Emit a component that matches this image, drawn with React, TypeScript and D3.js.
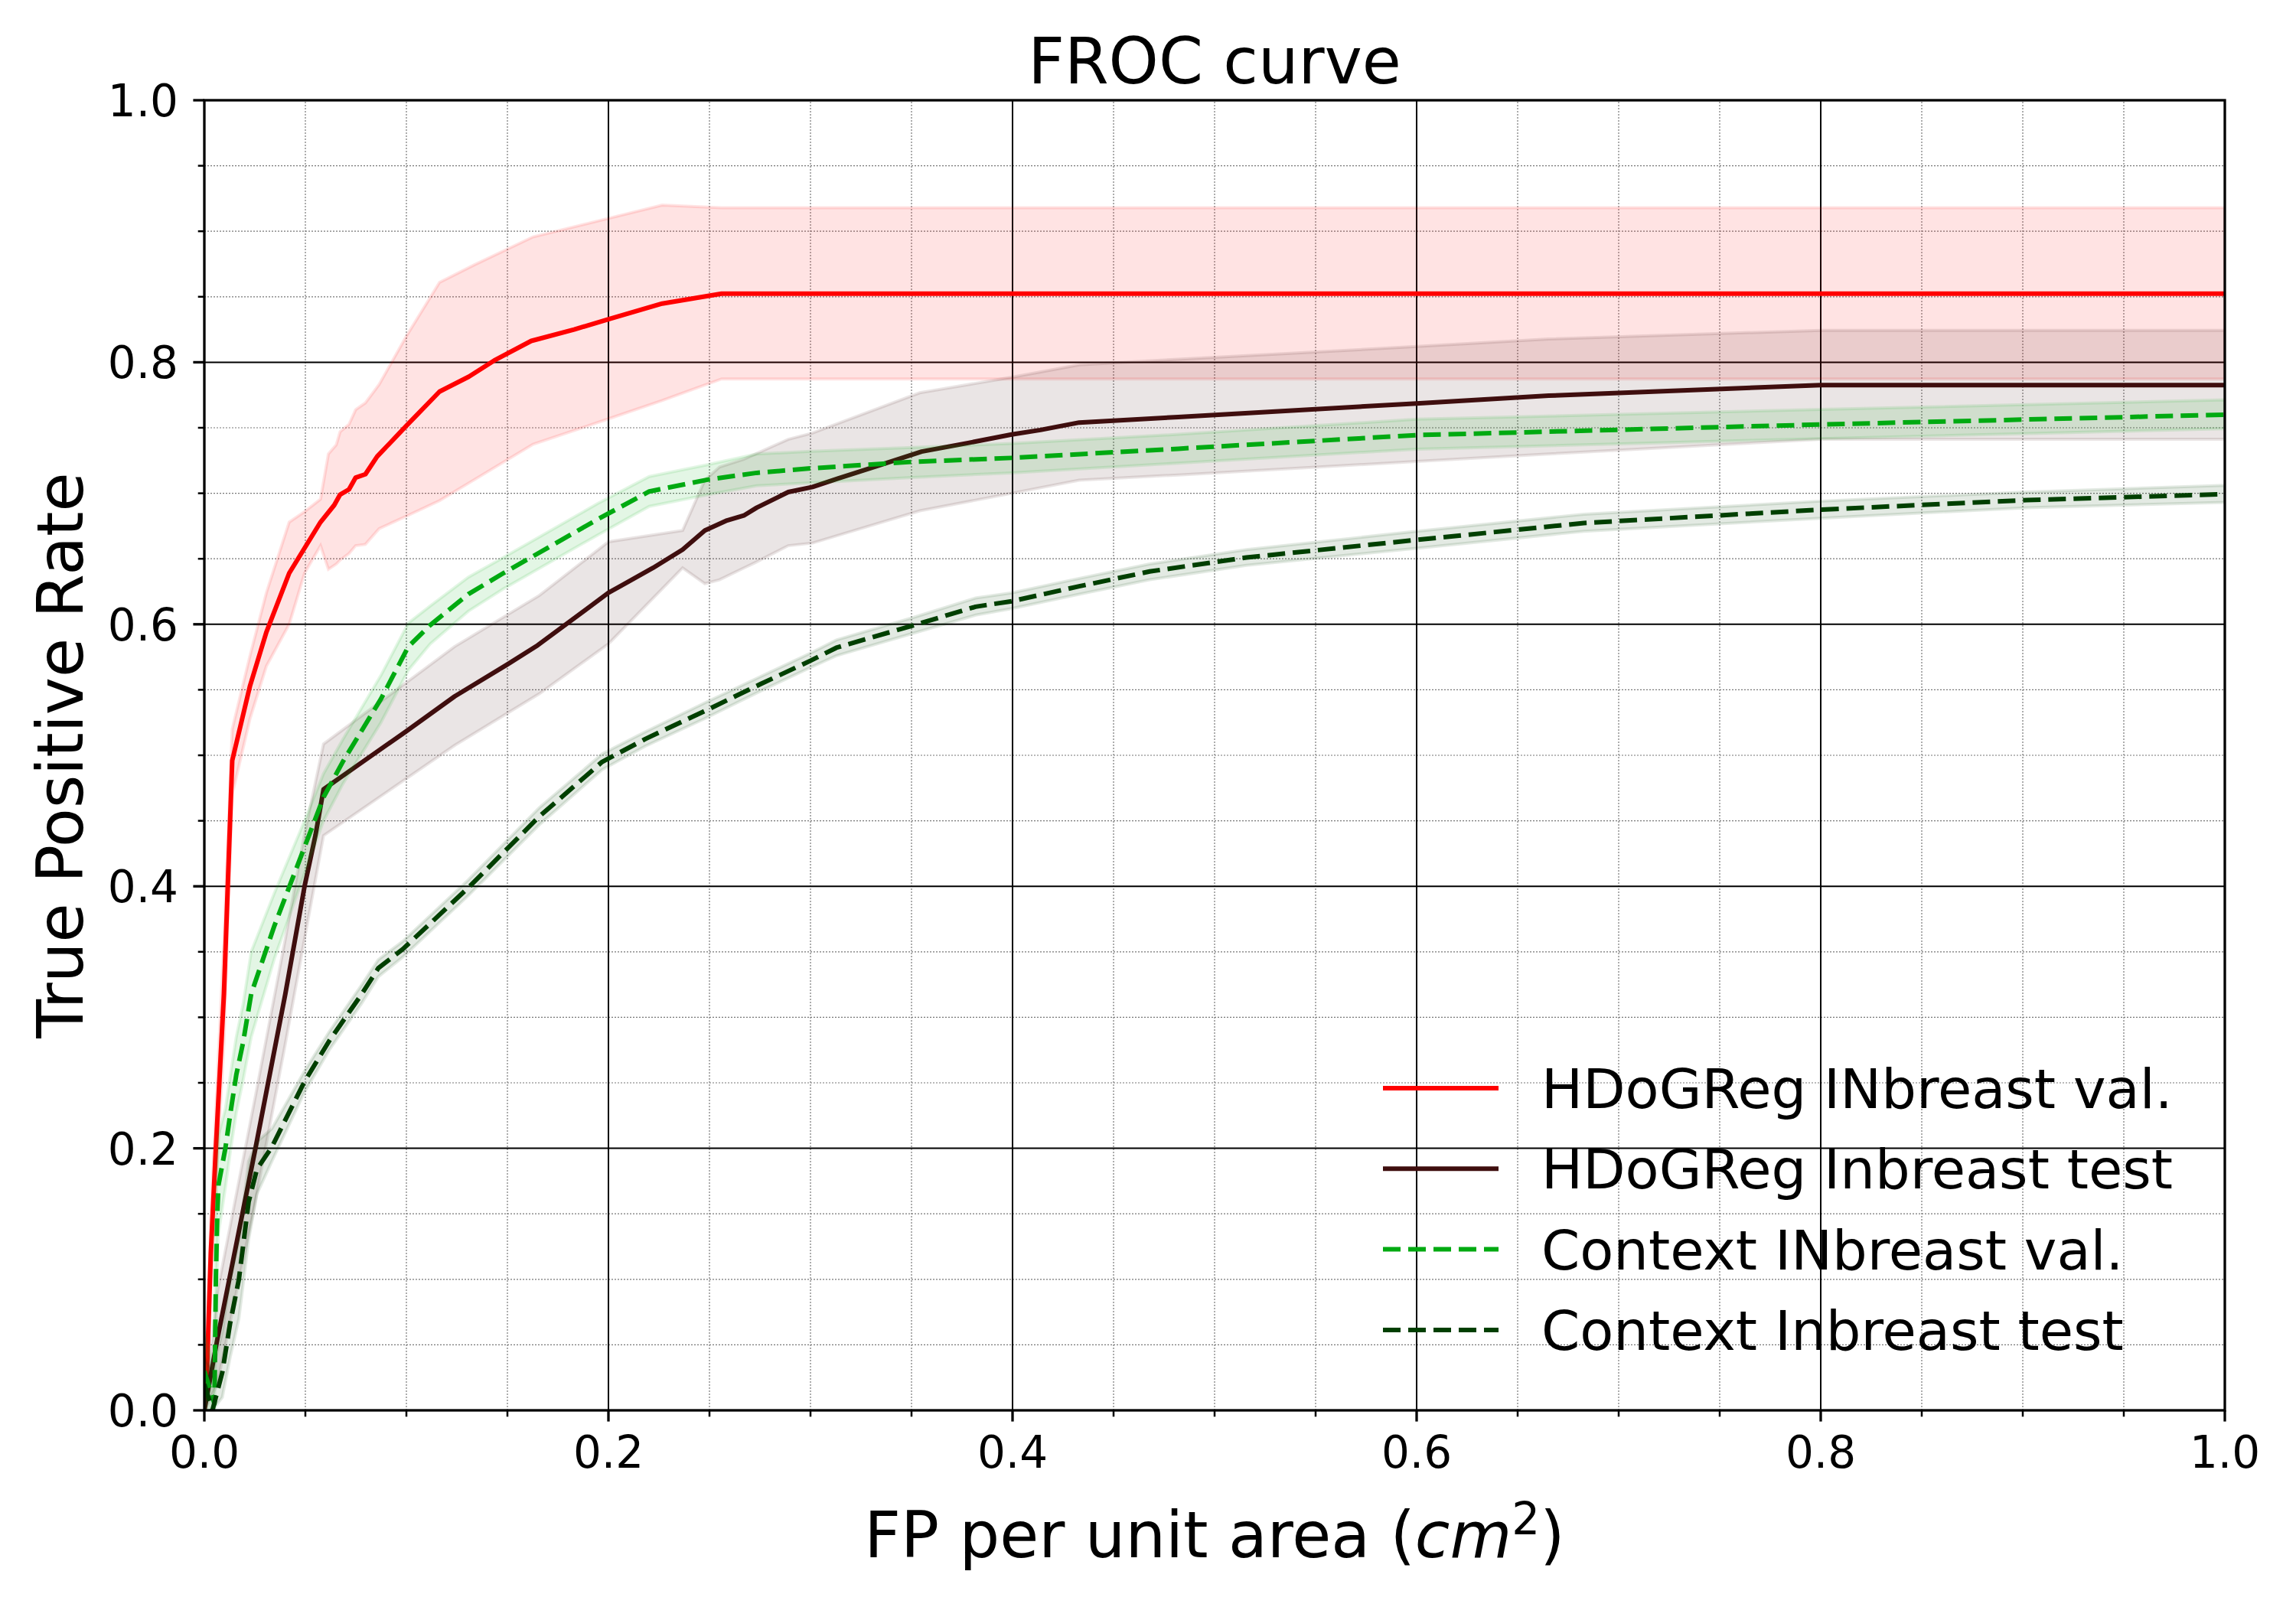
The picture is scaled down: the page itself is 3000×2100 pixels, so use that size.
import { useEffect, useRef } from "react";
import * as d3 from "d3";

// HDoGReg INbreast val. (red)
const redX = [0, 0.0013, 0.0032, 0.0057, 0.0097, 0.0138, 0.0226, 0.0307, 0.042, 0.0575, 0.0643, 0.0672, 0.0716, 0.0749, 0.0797, 0.0855, 0.1, 0.1164, 0.1309, 0.1434, 0.1618, 0.183, 0.2004, 0.2266, 0.256, 1.0];
const redY = [0, 0.03, 0.12, 0.2, 0.318, 0.496, 0.553, 0.594, 0.639, 0.678, 0.691, 0.699, 0.703, 0.712, 0.7145, 0.728, 0.7515, 0.7776, 0.789, 0.8013, 0.8163, 0.825, 0.833, 0.8448, 0.8524, 0.8524];
const redBandX = [0, 0.0013, 0.0032, 0.0057, 0.0097, 0.0138, 0.0226, 0.0307, 0.042, 0.0496, 0.0575, 0.0614, 0.0653, 0.0672, 0.0716, 0.0749, 0.0797, 0.0865, 0.1, 0.1164, 0.1338, 0.1627, 0.2004, 0.2266, 0.256, 1.0];
const redBandLo = [0, 0.01, 0.09, 0.17, 0.28, 0.47, 0.528, 0.568, 0.6, 0.639, 0.66, 0.642, 0.646, 0.649, 0.654, 0.66, 0.661, 0.673, 0.6825, 0.6944, 0.7105, 0.7374, 0.757, 0.7708, 0.7873, 0.7873];
const redBandHi = [0, 0.05, 0.15, 0.23, 0.36, 0.52, 0.576, 0.624, 0.678, 0.686, 0.6955, 0.73, 0.737, 0.747, 0.7526, 0.7638, 0.769, 0.783, 0.82, 0.861, 0.8745, 0.8957, 0.91, 0.92, 0.918, 0.918];

// HDoGReg Inbreast test (dark maroon)
const brownX = [0, 0.0064, 0.0253, 0.0401, 0.0496, 0.055, 0.059, 0.0678, 0.0996, 0.1239, 0.1496, 0.165, 0.2, 0.222, 0.2367, 0.2477, 0.2587, 0.267, 0.2734, 0.289, 0.301, 0.3138, 0.334, 0.355, 0.378, 0.3996, 0.4138, 0.433, 0.482, 0.6, 0.6654, 0.8, 1.0];
const brownY = [0, 0.054, 0.2, 0.318, 0.4, 0.439, 0.474, 0.4836, 0.518, 0.545, 0.569, 0.584, 0.624, 0.643, 0.657, 0.6716, 0.6793, 0.683, 0.689, 0.7009, 0.7048, 0.7114, 0.7213, 0.7318, 0.7384, 0.7449, 0.7483, 0.754, 0.7582, 0.7686, 0.7745, 0.7826, 0.7826];
const brownBandX = [0, 0.0064, 0.0253, 0.0401, 0.0496, 0.059, 0.1239, 0.1658, 0.2, 0.2367, 0.2477, 0.255, 0.267, 0.2725, 0.289, 0.301, 0.3541, 0.3996, 0.433, 0.482, 0.6, 0.6654, 0.8, 1.0];
const brownBandLo = [0, 0.02, 0.16, 0.28, 0.36, 0.4387, 0.5076, 0.547, 0.585, 0.643, 0.631, 0.634, 0.643, 0.647, 0.66, 0.662, 0.6866, 0.7, 0.71, 0.714, 0.7243, 0.73, 0.7412, 0.7412];
const brownBandHi = [0, 0.09, 0.24, 0.36, 0.44, 0.5086, 0.583, 0.622, 0.663, 0.6716, 0.71, 0.72, 0.726, 0.7298, 0.7412, 0.746, 0.7767, 0.7886, 0.798, 0.8023, 0.812, 0.8177, 0.8244, 0.8244];

// Context INbreast val. (green, dashed)
const greenX = [0, 0.005, 0.0057, 0.0064, 0.007, 0.0104, 0.0131, 0.0158, 0.0192, 0.0232, 0.0347, 0.0496, 0.059, 0.0685, 0.0874, 0.101, 0.1118, 0.1307, 0.148, 0.1945, 0.2202, 0.2495, 0.2734, 0.3, 0.3505, 0.3996, 0.482, 0.6, 0.8, 1.0];
const greenY = [0.03, 0.005, 0.1, 0.15, 0.172, 0.2, 0.229, 0.256, 0.281, 0.318, 0.37, 0.43, 0.468, 0.495, 0.543, 0.583, 0.5994, 0.623, 0.639, 0.68, 0.7014, 0.7105, 0.7156, 0.719, 0.724, 0.727, 0.734, 0.7444, 0.7525, 0.76];
const greenLo = [0, 0, 0.06, 0.11, 0.135, 0.17, 0.2, 0.227, 0.252, 0.285, 0.345, 0.41, 0.45, 0.478, 0.525, 0.565, 0.585, 0.61, 0.627, 0.668, 0.69, 0.699, 0.7057, 0.708, 0.712, 0.7156, 0.723, 0.7337, 0.7417, 0.7493];
const greenHi = [0.06, 0.03, 0.14, 0.19, 0.21, 0.23, 0.258, 0.285, 0.31, 0.35, 0.395, 0.45, 0.486, 0.512, 0.561, 0.601, 0.614, 0.636, 0.651, 0.692, 0.7128, 0.722, 0.73, 0.732, 0.735, 0.738, 0.745, 0.7565, 0.764, 0.7713];

// Context Inbreast test (dark green, dashed)
const dkX = [0, 0.004, 0.0089, 0.0127, 0.0171, 0.0219, 0.026, 0.0334, 0.0496, 0.0618, 0.078, 0.0861, 0.0982, 0.1307, 0.1658, 0.1969, 0.2183, 0.2477, 0.2752, 0.3, 0.3128, 0.3505, 0.3817, 0.3996, 0.433, 0.4679, 0.5158, 0.6, 0.6828, 0.8, 0.902, 1.0];
const dkY = [0.02, 0, 0.029, 0.066, 0.1, 0.159, 0.184, 0.201, 0.251, 0.282, 0.318, 0.3375, 0.352, 0.399, 0.4533, 0.495, 0.5125, 0.5338, 0.5543, 0.5722, 0.5821, 0.599, 0.6134, 0.6176, 0.629, 0.6403, 0.651, 0.6644, 0.6773, 0.6875, 0.6948, 0.6993];
const dkLo = [0, 0, 0.01, 0.04, 0.07, 0.13, 0.165, 0.19, 0.243, 0.275, 0.311, 0.331, 0.346, 0.393, 0.447, 0.489, 0.507, 0.528, 0.549, 0.567, 0.576, 0.593, 0.607, 0.612, 0.623, 0.634, 0.645, 0.658, 0.671, 0.681, 0.689, 0.693];
const dkHi = [0.04, 0.03, 0.06, 0.1, 0.13, 0.19, 0.205, 0.215, 0.259, 0.289, 0.325, 0.344, 0.358, 0.405, 0.46, 0.501, 0.518, 0.54, 0.56, 0.578, 0.588, 0.605, 0.62, 0.624, 0.635, 0.646, 0.657, 0.671, 0.684, 0.694, 0.701, 0.706];

const majorTicks = [0, 0.2, 0.4, 0.6, 0.8, 1.0];
const minorTicks = [0.05, 0.1, 0.15, 0.25, 0.3, 0.35, 0.45, 0.5, 0.55, 0.65, 0.7, 0.75, 0.85, 0.9, 0.95];

const series = [
  { name: "HDoGReg INbreast val.", color: "#ff0000", dash: null, x: redX, y: redY, bx: redBandX, lo: redBandLo, hi: redBandHi },
  { name: "HDoGReg Inbreast test", color: "#3f0e0e", dash: null, x: brownX, y: brownY, bx: brownBandX, lo: brownBandLo, hi: brownBandHi },
  { name: "Context INbreast val.", color: "#00aa11", dash: "23,10", x: greenX, y: greenY, bx: greenX, lo: greenLo, hi: greenHi },
  { name: "Context Inbreast test", color: "#003f00", dash: "23,10", x: dkX, y: dkY, bx: dkX, lo: dkLo, hi: dkHi },
];

const FONT = "'DejaVu Sans', sans-serif";

export default function App() {
  const svgRef = useRef<SVGSVGElement>(null);

  useEffect(() => {
    if (!svgRef.current) return;
    document.body.style.margin = "0";

    const W = 3000;
    const H = 2100;
    const margin = { top: 131, right: 93, bottom: 257, left: 267 };

    const svg = d3.select(svgRef.current).attr("width", W).attr("height", H);
    svg.selectAll("*").remove();

    svg.append("rect").attr("width", W).attr("height", H).attr("fill", "#fff");

    const xScale = d3.scaleLinear().domain([0, 1]).range([margin.left, W - margin.right]);
    const yScale = d3.scaleLinear().domain([0, 1]).range([H - margin.bottom, margin.top]);
    const [x0, x1] = xScale.range();
    const [y0, y1] = yScale.range();

    svg
      .append("clipPath")
      .attr("id", "plot-clip")
      .append("rect")
      .attr("x", x0)
      .attr("y", y1)
      .attr("width", x1 - x0)
      .attr("height", y0 - y1);

    // Grid
    const grid = svg.append("g");
    grid
      .selectAll("line.minor-v")
      .data(minorTicks)
      .enter()
      .append("line")
      .attr("x1", (d) => xScale(d))
      .attr("x2", (d) => xScale(d))
      .attr("y1", y0)
      .attr("y2", y1)
      .attr("stroke", "#777")
      .attr("stroke-width", 1.2)
      .attr("stroke-dasharray", "2,2");
    grid
      .selectAll("line.minor-h")
      .data(minorTicks)
      .enter()
      .append("line")
      .attr("x1", x0)
      .attr("x2", x1)
      .attr("y1", (d) => yScale(d))
      .attr("y2", (d) => yScale(d))
      .attr("stroke", "#777")
      .attr("stroke-width", 1.2)
      .attr("stroke-dasharray", "2,2");
    grid
      .selectAll("line.major-v")
      .data(majorTicks)
      .enter()
      .append("line")
      .attr("x1", (d) => xScale(d))
      .attr("x2", (d) => xScale(d))
      .attr("y1", y0)
      .attr("y2", y1)
      .attr("stroke", "#000")
      .attr("stroke-width", 2);
    grid
      .selectAll("line.major-h")
      .data(majorTicks)
      .enter()
      .append("line")
      .attr("x1", x0)
      .attr("x2", x1)
      .attr("y1", (d) => yScale(d))
      .attr("y2", (d) => yScale(d))
      .attr("stroke", "#000")
      .attr("stroke-width", 2);

    // Bands and lines
    const plot = svg.append("g").attr("clip-path", "url(#plot-clip)");
    series.forEach((s) => {
      const band = d3
        .area<number>()
        .x((_, i) => xScale(s.bx[i]))
        .y0((_, i) => yScale(s.lo[i]))
        .y1((_, i) => yScale(s.hi[i]));
      plot
        .append("path")
        .attr("d", band(s.bx) as string)
        .attr("fill", s.color)
        .attr("fill-opacity", 0.11)
        .attr("stroke", s.color)
        .attr("stroke-opacity", 0.11)
        .attr("stroke-width", 4);

      const line = d3
        .line<number>()
        .x((_, i) => xScale(s.x[i]))
        .y((_, i) => yScale(s.y[i]));
      plot
        .append("path")
        .attr("d", line(s.x) as string)
        .attr("fill", "none")
        .attr("stroke", s.color)
        .attr("stroke-width", 6)
        .attr("stroke-linejoin", "round")
        .attr("stroke-dasharray", s.dash);
    });

    // Spines
    svg
      .append("rect")
      .attr("x", x0)
      .attr("y", y1)
      .attr("width", x1 - x0)
      .attr("height", y0 - y1)
      .attr("fill", "none")
      .attr("stroke", "#000")
      .attr("stroke-width", 3.3);

    // Ticks
    const ticks = svg.append("g");
    majorTicks.forEach((t) => {
      ticks.append("line").attr("x1", xScale(t)).attr("x2", xScale(t)).attr("y1", y0).attr("y2", y0 + 14.6).attr("stroke", "#000").attr("stroke-width", 3.3);
      ticks.append("line").attr("x1", x0).attr("x2", x0 - 14.6).attr("y1", yScale(t)).attr("y2", yScale(t)).attr("stroke", "#000").attr("stroke-width", 3.3);
      ticks
        .append("text")
        .attr("x", xScale(t))
        .attr("y", y0 + 75)
        .attr("text-anchor", "middle")
        .style("font-family", FONT)
        .style("font-size", "58px")
        .text(t.toFixed(1));
      ticks
        .append("text")
        .attr("x", x0 - 34)
        .attr("y", yScale(t) + 21)
        .attr("text-anchor", "end")
        .style("font-family", FONT)
        .style("font-size", "58px")
        .text(t.toFixed(1));
    });
    minorTicks.forEach((t) => {
      ticks.append("line").attr("x1", xScale(t)).attr("x2", xScale(t)).attr("y1", y0).attr("y2", y0 + 8.3).attr("stroke", "#000").attr("stroke-width", 2.5);
      ticks.append("line").attr("x1", x0).attr("x2", x0 - 8.3).attr("y1", yScale(t)).attr("y2", yScale(t)).attr("stroke", "#000").attr("stroke-width", 2.5);
    });

    // Title and axis labels
    const cx = (x0 + x1) / 2;
    svg
      .append("text")
      .attr("x", cx)
      .attr("y", 109)
      .attr("text-anchor", "middle")
      .style("font-family", FONT)
      .style("font-size", "83px")
      .text("FROC curve");

    const xl = svg
      .append("text")
      .attr("x", cx)
      .attr("y", 2035)
      .attr("text-anchor", "middle")
      .style("font-family", FONT)
      .style("font-size", "83px");
    xl.append("tspan").text("FP per unit area (");
    xl.append("tspan").style("font-style", "italic").text("cm");
    xl.append("tspan").attr("dy", -30).style("font-size", "58px").text("2");
    xl.append("tspan").attr("dy", 30).text(")");

    svg
      .append("text")
      .attr("transform", `translate(108,${(y0 + y1) / 2}) rotate(-90)`)
      .attr("text-anchor", "middle")
      .style("font-family", FONT)
      .style("font-size", "83px")
      .text("True Positive Rate");

    // Legend
    const legend = svg.append("g");
    series.forEach((s, i) => {
      const ly = 1422 + i * 105.3;
      legend
        .append("line")
        .attr("x1", 1807)
        .attr("x2", 1958)
        .attr("y1", ly)
        .attr("y2", ly)
        .attr("stroke", s.color)
        .attr("stroke-width", 6)
        .attr("stroke-dasharray", s.dash);
      legend
        .append("text")
        .attr("x", 2014)
        .attr("y", ly + 26)
        .style("font-family", FONT)
        .style("font-size", "72px")
        .text(s.name);
    });
  }, []);

  return (
    <div style={{ position: "absolute", left: 0, top: 0 }}>
      <svg ref={svgRef}></svg>
    </div>
  );
}
